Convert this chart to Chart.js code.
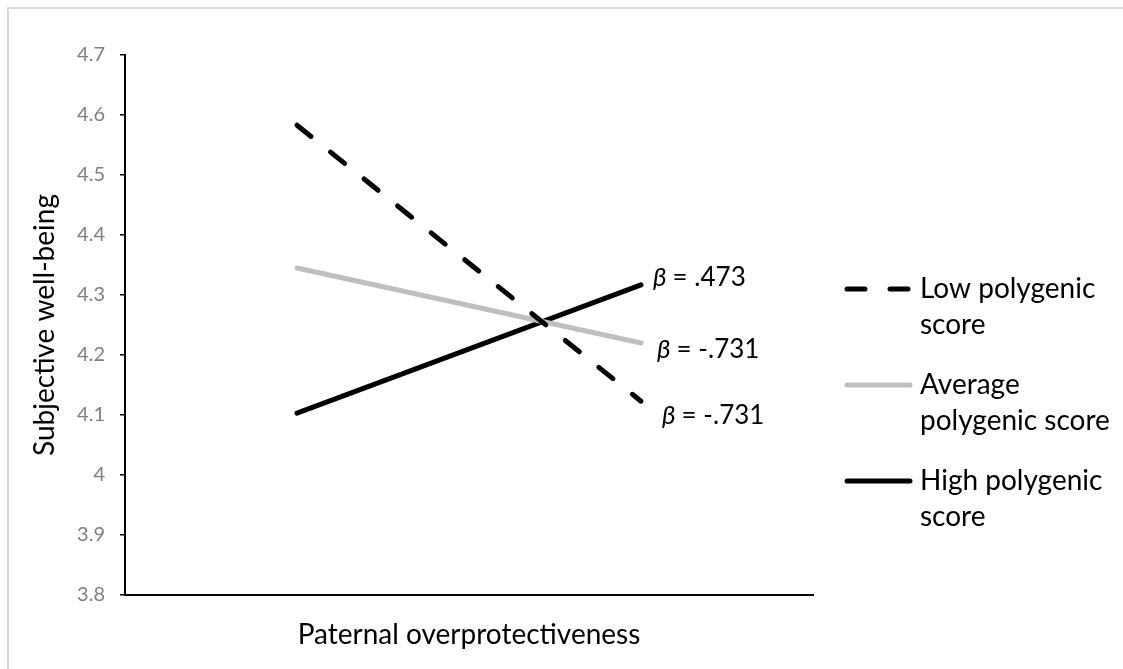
<!DOCTYPE html>
<html>
<head>
<meta charset="utf-8">
<title>Subjective well-being</title>
<script src="https://cdn.jsdelivr.net/npm/chart.js@4.4.0/dist/chart.umd.min.js"></script>
<style>
  html, body { margin: 0; padding: 0; background: #fff; overflow: hidden; }
  #frame { position: absolute; left: 7px; top: 7px; width: 1300px; height: 900px; border: 2px solid #d9d9d9; }
  #wrap { position: absolute; left: 0; top: 0; width: 1123px; height: 669px; }
</style>
</head>
<body>
<div id="frame"></div>
<div id="wrap"><canvas id="myChart" width="1123" height="669"></canvas></div>
<script>
// paternal overprotectiveness: low / high (-1 SD / +1 SD)
const categories = ['Low', 'High']
const lowScore = [4.583, 4.123]
const avgScore = [4.345, 4.220]
const highScore = [4.103, 4.317]
const seriesNames = [['Low polygenic', 'score'], ['Average', 'polygenic score'], ['High polygenic', 'score']]
const slopeLabels = ['= -.731', '= -.731', '= .473']
const yTicks = [3.8, 3.9, 4.0, 4.1, 4.2, 4.3, 4.4, 4.5, 4.6, 4.7]

const FONT = 'Lato'

// beta labels next to the line ends
const slopePlugin = {
  id: 'slopes',
  afterDatasetsDraw(chart) {
    const ctx = chart.ctx
    const xs = chart.scales.x
    const ys = chart.scales.y
    const nudge = [[21, 14], [16, 7], [12, -7]]
    chart.data.datasets.forEach((ds, i) => {
      const last = ds.data.length - 1
      const x = xs.getPixelForValue(last) + nudge[i][0]
      const y = ys.getPixelForValue(ds.data[last]) + nudge[i][1]
      ctx.save()
      ctx.fillStyle = '#000'
      ctx.textBaseline = 'middle'
      ctx.textAlign = 'left'
      ctx.font = 'italic 26px ' + FONT
      ctx.fillText('β', x, y)
      const w = ctx.measureText('β ').width
      ctx.font = '26px ' + FONT
      ctx.fillText(slopeLabels[i], x + w, y)
      ctx.restore()
    })
  }
}

// legend on the right with two-line labels
const sideLegend = {
  id: 'sideLegend',
  afterDraw(chart) {
    const ctx = chart.ctx
    const rows = [289, 385, 481]
    chart.data.datasets.forEach((ds, i) => {
      ctx.save()
      ctx.strokeStyle = ds.borderColor
      ctx.lineWidth = ds.borderWidth
      ctx.lineCap = 'round'
      ctx.setLineDash(ds.borderDash || [])
      ctx.beginPath()
      ctx.moveTo(847, rows[i])
      ctx.lineTo(910, rows[i])
      ctx.stroke()
      ctx.fillStyle = '#000'
      ctx.font = '28px ' + FONT
      ctx.textBaseline = 'middle'
      seriesNames[i].forEach((t, j) => ctx.fillText(t, 920, rows[i] + j * 36))
      ctx.restore()
    })
  }
}

const config = {
  type: 'line',
  data: {
    labels: categories,
    datasets: [
      { label: seriesNames[0].join(' '), data: lowScore, borderColor: '#000000', borderWidth: 5, borderDash: [18, 25] },
      { label: seriesNames[1].join(' '), data: avgScore, borderColor: '#bfbfbf', borderWidth: 5 },
      { label: seriesNames[2].join(' '), data: highScore, borderColor: '#000000', borderWidth: 5 }
    ]
  },
  options: {
    responsive: false,
    animation: false,
    devicePixelRatio: 1,
    layout: { padding: { top: 55, right: 310, bottom: 0, left: 0 } },
    elements: {
      line: { tension: 0, borderCapStyle: 'round', fill: false },
      point: { radius: 0, hoverRadius: 0 }
    },
    plugins: {
      legend: { display: false },
      tooltip: { enabled: false }
    },
    scales: {
      x: {
        type: 'category',
        offset: true,
        afterFit: s => { s.height = 74 },
        ticks: { display: false },
        grid: { display: false },
        border: { display: true, color: '#000', width: 2 },
        title: {
          display: true,
          text: 'Paternal overprotectiveness',
          color: '#000',
          font: { family: FONT, size: 28 },
          padding: { top: 0, bottom: 17 }
        }
      },
      y: {
        min: 3.8,
        max: 4.7,
        afterFit: s => { s.width = 125 },
        afterBuildTicks: s => { s.ticks = yTicks.map(v => ({ value: v })) },
        ticks: {
          color: '#808080',
          font: { family: FONT, size: 20 },
          padding: 15,
          callback: v => String(+v.toFixed(1))
        },
        grid: { display: true, drawOnChartArea: false, drawTicks: true, tickLength: 5, color: '#000', lineWidth: 1.5 },
        border: { display: true, color: '#000', width: 2 },
        title: {
          display: true,
          text: 'Subjective well-being',
          color: '#000',
          font: { family: FONT, size: 28 },
          padding: { top: 28, bottom: 0 }
        }
      }
    }
  },
  plugins: [slopePlugin, sideLegend]
}

const myChart = new Chart(document.getElementById('myChart'), config)
</script>
</body>
</html>
